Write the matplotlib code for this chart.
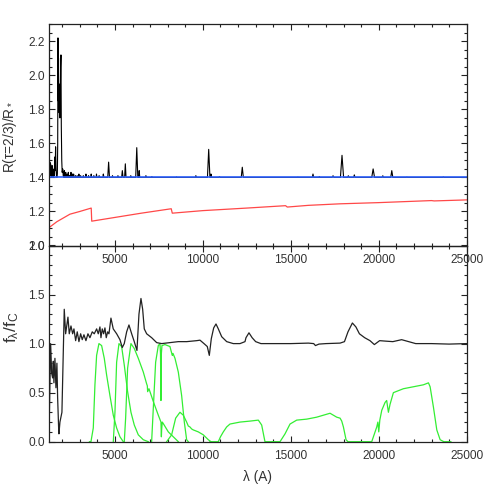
import matplotlib

matplotlib.use("Agg")
import matplotlib.pyplot as plt
from matplotlib.ticker import MultipleLocator

# ---- top panel: R(tau=2/3)/R* ------------------------------------------------
r_lam = [1250, 1265, 1285, 1300, 1320, 1340, 1360, 1380, 1400, 1425, 1450, 1475,
         1500, 1525, 1550, 1575, 1600, 1625, 1650, 1675, 1700, 1725, 1745, 1760,
         1775, 1790, 1805, 1815, 1830, 1850, 1870, 1890, 1910, 1930, 1950, 1975,
         2000, 2030, 2060,
         2100, 2120, 2140, 2180, 2200, 2220, 2260, 2280, 2300, 2330, 2350, 2370,
         2400, 2420, 2440, 2480, 2500, 2520, 2560, 2580, 2600, 2630, 2650, 2670,
         2730, 2750, 2770, 2830, 2850, 2870, 2930, 2950, 2970, 3030, 3050, 3070,
         3180, 3200, 3220, 3330, 3350, 3370, 3480, 3500, 3520, 3630, 3650, 3670,
         3780, 3800, 3820, 3930, 3950, 3970, 4080, 4100, 4120, 4310, 4340, 4370,
         4590, 4640, 4690, 4830, 4860, 4890, 5140, 5170, 5200, 5380, 5420, 5460,
         5550, 5590, 5630, 5870, 5900, 5930, 6180, 6240, 6300, 6350, 6380, 6410,
         6730, 6760, 6790, 7070, 7100, 7130, 8470, 8500, 8530, 9570, 9600, 9630,
         10260, 10330, 10400, 10430, 10460, 10490, 10900, 10940, 10980,
         12180, 12240, 12300, 15370, 15400, 15430, 16220, 16260, 16300,
         16590, 16620, 16650, 17350, 17400, 17450, 17820, 17910, 18000,
         18230, 18270, 18310, 18570, 18610, 18650, 19600, 19680, 19760,
         20190, 20230, 20270, 20680, 20740, 20800, 21560, 21600, 21640,
         23630, 23670, 23710, 25000]
r_val = [1.40, 1.50, 1.43, 1.49, 1.41, 1.48, 1.42, 1.46, 1.40, 1.47, 1.41, 1.45,
         1.40, 1.44, 1.41, 1.52, 1.44, 1.58, 1.45, 1.41, 1.40, 1.42, 1.60, 2.22,
         1.85, 2.10, 1.80, 1.95, 1.78, 1.90, 1.75, 1.85, 2.05, 2.12, 1.70, 1.50,
         1.43, 1.45, 1.41,
         1.40, 1.44, 1.40, 1.40, 1.43, 1.40, 1.40, 1.42, 1.40, 1.40, 1.43, 1.40,
         1.40, 1.41, 1.40, 1.40, 1.43, 1.40, 1.40, 1.42, 1.40, 1.40, 1.42, 1.40,
         1.40, 1.41, 1.40, 1.40, 1.41, 1.40, 1.40, 1.42, 1.40, 1.40, 1.41, 1.40,
         1.40, 1.41, 1.40, 1.40, 1.42, 1.40, 1.40, 1.41, 1.40, 1.40, 1.42, 1.40,
         1.40, 1.41, 1.40, 1.40, 1.42, 1.40, 1.40, 1.41, 1.40, 1.40, 1.42, 1.40,
         1.40, 1.49, 1.40, 1.40, 1.41, 1.40, 1.40, 1.41, 1.40, 1.40, 1.44, 1.40,
         1.40, 1.48, 1.40, 1.40, 1.41, 1.40, 1.40, 1.575, 1.40, 1.40, 1.44, 1.40,
         1.40, 1.41, 1.40, 1.40, 1.405, 1.40, 1.40, 1.403, 1.40, 1.40, 1.41, 1.40,
         1.40, 1.565, 1.40, 1.40, 1.42, 1.40, 1.40, 1.405, 1.40,
         1.40, 1.46, 1.40, 1.40, 1.402, 1.40, 1.40, 1.42, 1.40,
         1.40, 1.405, 1.40, 1.40, 1.41, 1.40, 1.40, 1.53, 1.40,
         1.40, 1.41, 1.40, 1.40, 1.415, 1.40, 1.40, 1.45, 1.40,
         1.40, 1.41, 1.40, 1.40, 1.44, 1.40, 1.40, 1.402, 1.40,
         1.40, 1.403, 1.40, 1.40]

blue_lam = [1250, 25000]
blue_val = [1.40, 1.40]

red_lam = [1250, 1700, 2440, 3000, 3650, 3680, 5000, 6500, 8200, 8260, 10000,
           12500, 14700, 14800, 16000, 17800, 20000, 22000, 23000, 23150, 25000]
red_val = [1.105, 1.14, 1.184, 1.20, 1.22, 1.143, 1.165, 1.19, 1.216, 1.19, 1.205,
           1.22, 1.234, 1.226, 1.236, 1.245, 1.252, 1.26, 1.264, 1.262, 1.268]

# ---- bottom panel: f_lambda / f_c --------------------------------------------
f_lam = [1250, 1263, 1343, 1400, 1456, 1495, 1530, 1587, 1644, 1700, 1740, 1796,
         1815, 1872, 1928, 1985, 2117, 2196, 2327, 2402, 2499, 2594, 2668, 2765,
         2856, 2952, 3049, 3140, 3237, 3350, 3464, 3578, 3709, 3823, 3959, 4050,
         4147, 4204, 4278, 4357, 4431, 4505, 4585, 4659, 4772, 4903, 5097, 5284,
         5415, 5529, 5665, 5796, 5950, 6098, 6251, 6365, 6479, 6575, 6667, 6803,
         7088, 7372, 7656, 8128, 8602, 9078, 9647, 9835, 10063, 10250, 10365,
         10478, 10614, 10745, 10877, 11070, 11354, 11729, 12110, 12394, 12450,
         12620, 12800, 13000, 13300, 14000, 15000, 16000, 16300, 16400, 16600,
         17000, 17800, 18050, 18250, 18500, 18700, 18900, 19200, 19500, 19750,
         20050, 20400, 20800, 21300, 21700, 22100, 23000, 24000, 25000]
f_val = [0.55, 0.2, 1.0, 0.7, 0.65, 0.82, 0.6, 0.85, 0.55, 0.8, 0.45, 0.15,
         0.08, 0.2, 0.25, 0.3, 1.35, 1.1, 1.27, 1.1, 1.18, 1.1, 1.15, 1.03,
         1.12, 1.02, 1.1, 1.04, 1.09, 1.03, 1.1, 1.06, 1.12, 1.1, 1.15, 1.1,
         1.17, 1.06, 1.15, 1.1, 1.16, 1.06, 1.12, 1.1, 1.26, 1.15, 1.1, 1.04,
         0.96, 1.0, 1.12, 1.19, 1.1, 1.02, 0.93, 1.3, 1.46, 1.35, 1.15, 1.1,
         1.06, 1.01, 1.0, 1.01, 1.02, 1.02, 1.03, 1.035, 1.0, 0.97, 0.88,
         1.05, 1.16, 1.2, 1.15, 1.07, 1.02, 1.0, 1.0, 1.02, 1.06,
         1.11, 1.06, 1.02, 1.0, 1.0, 1.0, 1.005, 1.0, 0.98, 0.995,
         1.0, 1.005, 1.02, 1.12, 1.21, 1.17, 1.1, 1.06, 1.03, 0.99,
         1.03, 1.025, 1.02, 1.04, 1.02, 1.0, 1.0, 0.995, 1.0]

# filter transmission curves
b_lam = [3550, 3635, 3768, 3862, 3957, 4090, 4242, 4393, 4526, 4715, 4905, 5095,
         5284, 5474]
b_val = [0.0, 0.0, 0.14, 0.58, 0.88, 1.0, 0.98, 0.85, 0.68, 0.47, 0.27, 0.14,
         0.05, 0.0]
v_lam = [4905, 5000, 5095, 5228, 5379, 5531, 5720, 5910, 6099, 6327, 6612, 6896]
v_val = [0.0, 0.3, 0.81, 1.0, 0.97, 0.78, 0.51, 0.3, 0.17, 0.07, 0.02, 0.0]
r_band_lam = [5531, 5607, 5720, 5910, 6099, 6327, 6612, 6801, 6840, 6858, 6934,
              7180, 7465, 7616, 7640, 7654, 7690, 7730, 8034, 8318, 8602]
r_band_val = [0.0, 0.24, 0.75, 1.0, 0.95, 0.85, 0.71, 0.59, 0.57, 0.51, 0.54,
              0.41, 0.27, 0.2, 0.05, 0.12, 0.2, 0.19, 0.1, 0.05, 0.0]
i_lam = [7086, 7180, 7313, 7465, 7560, 7590, 7616, 7640, 7673, 7844, 8128, 8200,
         8261, 8300, 8413, 8602, 8792, 8944, 9076, 9171]
i_val = [0.0, 0.34, 0.81, 0.98, 1.0, 0.9, 0.42, 0.9, 0.98, 0.99, 0.97, 0.92,
         0.88, 0.9, 0.85, 0.71, 0.47, 0.2, 0.02, 0.0]
z_lam = [7939, 8223, 8451, 8697, 8887, 9076, 9170, 9266, 9360, 9455, 9740,
         10024, 10309, 10460]
z_val = [0.0, 0.07, 0.24, 0.3, 0.27, 0.2, 0.16, 0.15, 0.13, 0.12, 0.1,
         0.07, 0.02, 0.0]
j_lam = [10400, 10877, 11000, 11161, 11350, 11540, 12110, 12678, 13152, 13343,
         13474, 13530, 14000]
j_val = [0.0, 0.0, 0.05, 0.1, 0.15, 0.18, 0.2, 0.21, 0.22, 0.17, 0.05, 0.0, 0.0]
h_lam = [14000, 14385, 14670, 14954, 15333, 15902, 16470, 17040, 17230, 17610,
         17800, 17895, 17990, 18140, 18250, 19000]
h_val = [0.0, 0.0, 0.08, 0.18, 0.22, 0.23, 0.25, 0.28, 0.29, 0.25, 0.24, 0.21,
         0.15, 0.02, 0.0, 0.0]
k_lam = [19000, 19600, 19885, 19950, 20000, 20060, 20170, 20358, 20450, 20548,
         20640, 20832, 21400, 21970, 22540, 22825, 22920, 23110, 23300, 23490,
         23700, 24100]
k_val = [0.0, 0.0, 0.15, 0.2, 0.1, 0.22, 0.32, 0.4, 0.42, 0.3, 0.38, 0.5,
         0.54, 0.56, 0.58, 0.6, 0.56, 0.35, 0.12, 0.02, 0.0, 0.0]
filters = [(b_lam, b_val), (v_lam, v_val), (r_band_lam, r_band_val),
           (i_lam, i_val), (z_lam, z_val), (j_lam, j_val), (h_lam, h_val),
           (k_lam, k_val)]

FONT = "Liberation Sans"
plt.rcParams["font.family"] = [FONT, "DejaVu Sans"]
plt.rcParams["font.size"] = 8.6
plt.rcParams["mathtext.fontset"] = "custom"
plt.rcParams["mathtext.rm"] = FONT
plt.rcParams["mathtext.it"] = FONT
plt.rcParams["mathtext.bf"] = FONT
TXT = "#333333"
W, H = 491, 491

fig = plt.figure(figsize=(W / 100, H / 100), dpi=100)
x0, x1 = 49, 466.7
ax1 = fig.add_axes([x0 / W, 1 - 245.5 / H, (x1 - x0) / W, (245.5 - 24.3) / H])
ax2 = fig.add_axes([x0 / W, 1 - 441.7 / H, (x1 - x0) / W, (441.7 - 245.5) / H])
ax1.set_zorder(2)
for ax in (ax1, ax2):
    ax.patch.set_visible(False)
    ax.set_xlim(1250, 25000)
    ax.xaxis.set_major_locator(MultipleLocator(5000))
    ax.xaxis.set_minor_locator(MultipleLocator(1000))
    ax.tick_params(which="both", direction="in", top=True, right=True,
                   colors="#222222", labelcolor=TXT, width=0.8)
    ax.tick_params(which="major", length=4.3)
    ax.tick_params(which="minor", length=2.2)
    ax.tick_params(axis="x", pad=6)
    ax.tick_params(axis="y", pad=3)
    for s in ax.spines.values():
        s.set_color("#222222")
        s.set_linewidth(0.9)

# --- top panel ---
ax1.plot(r_lam, r_val, color="k", lw=0.8)
ax1.plot(blue_lam, blue_val, color="#2f62ff", lw=1.2)
ax1.plot(red_lam, red_val, color="#ff4848", lw=0.9)
ax1.set_ylim(1.0, 2.3)
ax1.yaxis.set_major_locator(MultipleLocator(0.2))
ax1.yaxis.set_minor_locator(MultipleLocator(0.05))
ax1.yaxis.set_major_formatter(plt.FormatStrFormatter("%.1f"))
ax1.set_ylabel("R(τ=2/3)/R$_*$", color=TXT, fontsize=9.8)
ax1.yaxis.set_label_coords(-0.072, 0.49)

# --- bottom panel ---
for lam, val in filters:
    ax2.plot(lam, val, color="#33ee33", lw=0.9)
ax2.plot(f_lam, f_val, color="#222222", lw=0.9)
ax2.set_ylim(0, 2.0)
ax2.yaxis.set_major_locator(MultipleLocator(0.5))
ax2.yaxis.set_minor_locator(MultipleLocator(0.1))
ax2.yaxis.set_major_formatter(plt.FormatStrFormatter("%.1f"))
ax2.set_ylabel("f$_\\mathrm{λ}$/f$_\\mathrm{C}$", color=TXT, fontsize=12.5)
ax2.yaxis.set_label_coords(-0.068, 0.585)
ax2.set_xlabel("λ (A)", color=TXT, fontsize=9.8)
ax2.xaxis.set_label_coords(0.499, -0.144)

fig.savefig("out.png", dpi=100)
